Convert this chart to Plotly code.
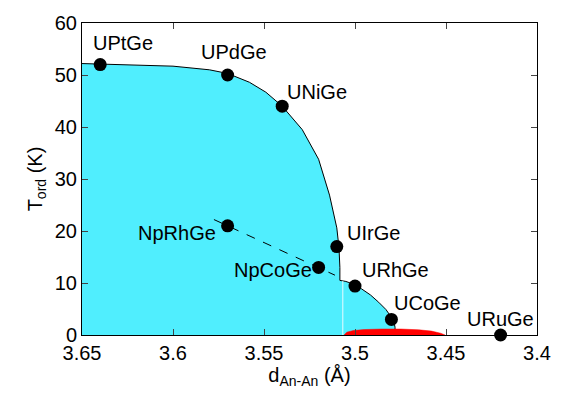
import plotly.graph_objects as go

# Compounds (points)
names = ["UPtGe", "UPdGe", "UNiGe", "NpRhGe", "NpCoGe", "UIrGe", "URhGe", "UCoGe", "URuGe"]
d_an = [3.640, 3.570, 3.540, 3.570, 3.520, 3.510, 3.500, 3.480, 3.420]
t_ord = [52.0, 50.0, 44.0, 21.0, 13.0, 17.0, 9.4, 3.0, 0.0]

# Phase boundary
bound_x = [3.650, 3.640, 3.620, 3.600, 3.580, 3.570, 3.558, 3.549, 3.540, 3.529,
           3.520, 3.514, 3.510, 3.5088, 3.5083, 3.5083, 3.505, 3.501, 3.4965,
           3.4915, 3.4870, 3.4830, 3.4800, 3.4785, 3.4780, 3.4780]
bound_y = [52.2, 52.1, 52.0, 51.7, 51.0, 50.3, 48.6, 46.7, 44.0, 39.5,
           33.8, 26.9, 20.6, 16.8, 13.0, 10.5, 10.3, 9.8, 8.9,
           7.7, 6.3, 4.9, 3.4, 2.3, 1.5, 0.0]

# Red region
red_x = [3.5060, 3.5045, 3.5010, 3.4950, 3.4850, 3.4750, 3.4650, 3.4580, 3.4530, 3.4505]
red_y = [0.0, 0.55, 0.85, 1.05, 1.15, 1.15, 1.0, 0.75, 0.35, 0.0]

# Dashed guide line (Np compounds)
np_x = [3.5775, 3.5110]
np_y = [22.2, 11.5]

# white separator line
sep_x = [3.5067, 3.5067]
sep_y = [0.0, 10.4]

# label offsets (px)
lab_dx = [23, 6, 35, -51, -46, 37, 40, 36, 0]
lab_dy = [22, 23, 14, -7, -3, 14, 16, 16, 16]

FONT = "Liberation Sans, Arial, Helvetica, sans-serif"

fig = go.Figure()
fig.add_trace(go.Scatter(x=bound_x, y=bound_y, mode="lines", fill="tozeroy",
                         fillcolor="#50EEFE", line=dict(color="black", width=1),
                         hoverinfo="skip", showlegend=False))
fig.add_trace(go.Scatter(x=sep_x, y=sep_y, mode="lines",
                         line=dict(color="#E8FBFF", width=1), showlegend=False))
fig.add_trace(go.Scatter(x=red_x, y=red_y, mode="lines", fill="toself",
                         fillcolor="#FF0000", line=dict(color="#FF0000", width=0.5),
                         showlegend=False))
fig.add_trace(go.Scatter(x=np_x, y=np_y, mode="lines",
                         line=dict(color="black", width=1, dash="dash"), showlegend=False))
fig.add_trace(go.Scatter(x=d_an, y=t_ord, mode="markers", cliponaxis=False,
                         marker=dict(color="black", size=13), showlegend=False))

for n, xv, yv, dx, dy in zip(names, d_an, t_ord, lab_dx, lab_dy):
    fig.add_annotation(x=xv, y=yv, text=n, showarrow=False, xshift=dx, yshift=dy,
                       font=dict(size=20, color="black", family=FONT))

fig.update_layout(
    width=563, height=394,
    margin=dict(l=82, r=22, t=18, b=58),
    paper_bgcolor="white", plot_bgcolor="white",
    font=dict(family=FONT, size=20, color="black"),
)
fig.update_xaxes(range=[3.65, 3.40], dtick=0.05, tick0=3.4, ticks="inside", ticklen=6,
                 showline=True, linecolor="black", linewidth=1, mirror="ticks",
                 showgrid=False, zeroline=False,
                 tickfont=dict(size=20),
                 title=dict(text="d<sub>An-An</sub> (Å)", font=dict(size=20), standoff=4))
fig.update_yaxes(range=[0, 60], dtick=10, ticks="inside", ticklen=6,
                 showline=True, linecolor="black", linewidth=1, mirror="ticks",
                 showgrid=False, zeroline=False,
                 tickfont=dict(size=20),
                 title=dict(text="T<sub>ord</sub> (K)", font=dict(size=20), standoff=6))

fig.write_html("out.html")
